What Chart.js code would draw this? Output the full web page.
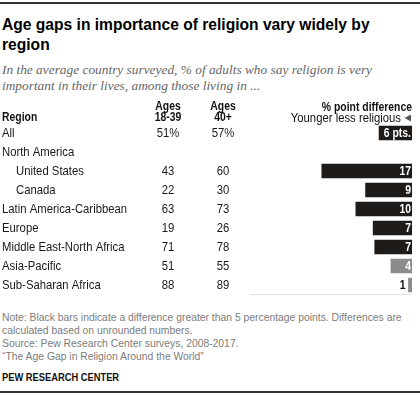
<!DOCTYPE html>
<html>
<head>
<meta charset="utf-8">
<script src="https://cdn.jsdelivr.net/npm/chart.js@4"></script>
<style>
  body { margin: 0; background: #fff; }
  #wrap { position: relative; width: 420px; height: 396px; overflow: hidden; font-family: "Liberation Sans", sans-serif; }
  .rule { position: absolute; left: 0; width: 420px; height: 1.5px; background: #333; }
  .fit { position: absolute; left: 2px; white-space: nowrap; transform-origin: left top; }
  #title { top: 15px; font-weight: bold; font-size: 17px; line-height: 20px; color: #000; }
  #sub { top: 62px; font-family: "Liberation Serif", serif; font-style: italic; font-size: 13.5px; line-height: 16px; color: #666; }
  #notes { top: 311px; font-size: 11px; line-height: 13px; color: #7c7c7c; }
  #pew { top: 371px; font-size: 11px; font-weight: bold; color: #111; }
  #box { position: absolute; left: 0; top: 96px; }
</style>
</head>
<body>
<div id="wrap">
  <div class="rule" style="top:2px"></div>
  <div id="title" class="fit" data-w="368">Age gaps in importance of religion vary widely by<br>region</div>
  <div id="sub" class="fit" data-w="370">In the average country surveyed, % of adults who say religion is very<br>important in their lives, among those living in ...</div>
  <div id="box"><canvas id="gap" width="420" height="204"></canvas></div>
  <div id="notes" class="fit" data-w="400">Note: Black bars indicate a difference greater than 5 percentage points. Differences are<br>calculated based on unrounded numbers.<br>Source: Pew Research Center surveys, 2008-2017.<br>“The Age Gap in Religion Around the World”</div>
  <div id="pew" class="fit" data-w="117">PEW RESEARCH CENTER</div>
  <div class="rule" style="top:391px"></div>
</div>
<script>
// rows of the table
var regions = ["All", "North America", "United States", "Canada", "Latin America-Caribbean",
  "Europe", "Middle East-North Africa", "Asia-Pacific", "Sub-Saharan Africa"];
var indented = [false, false, true, true, false, false, false, false, false];
var young = [51, null, 43, 22, 63, 19, 71, 51, 88];
var older = [57, null, 60, 30, 73, 26, 78, 55, 89];
// unrounded % point differences
var diff = [6.1, null, 16.7, 8.6, 10.4, 7.2, 6.9, 3.9, 0.65];
var diffLabels = ["6 pts.", "", "17", "9", "10", "7", "7", "4", "1"];

// squeeze the html text blocks to the narrow width of the original type
document.querySelectorAll(".fit").forEach(function (el) {
  var w = el.scrollWidth;
  el.style.transform = "scaleX(" + (el.dataset.w / w) + ")";
});

var FONT = '"Liberation Sans", sans-serif';

// canvas text, squeezed horizontally (regular ~0.87, bold ~0.8)
function txt(ctx, s, x, y, align, bold, color) {
  ctx.save();
  ctx.font = (bold ? "bold " : "") + "13px " + FONT;
  ctx.fillStyle = color;
  ctx.textAlign = align;
  ctx.textBaseline = "middle";
  ctx.translate(x, y);
  ctx.scale(bold ? 0.8 : 0.87, 1);
  ctx.fillText(s, 0, 0);
  ctx.restore();
}

function txtWidth(ctx, s, bold) {
  ctx.save();
  ctx.font = (bold ? "bold " : "") + "13px " + FONT;
  var w = ctx.measureText(s).width * (bold ? 0.8 : 0.87);
  ctx.restore();
  return w;
}

var barColors = diff.map(function (d) { return d > 5 ? "#1f1b18" : "#8c8c8c"; });

var tablePlugin = {
  id: "table",
  afterDatasetsDraw: function (chart) {
    var ctx = chart.ctx;
    var x = chart.scales.x, y = chart.scales.y;
    var area = chart.chartArea;

    // column headers
    txt(ctx, "Region", 2, 21, "left", true, "#111");
    txt(ctx, "Ages", 168, 10, "center", true, "#111");
    txt(ctx, "18-39", 168, 21, "center", true, "#111");
    txt(ctx, "Ages", 223, 10, "center", true, "#111");
    txt(ctx, "40+", 223, 21, "center", true, "#111");
    txt(ctx, "% point difference", 412, 11, "right", true, "#111");
    txt(ctx, "Younger less religious", 401, 22, "right", false, "#111");
    ctx.save();
    ctx.fillStyle = "#555";
    ctx.beginPath();
    ctx.moveTo(404.5, 22);
    ctx.lineTo(411, 18.5);
    ctx.lineTo(411, 25.5);
    ctx.closePath();
    ctx.fill();
    ctx.restore();

    // rows
    regions.forEach(function (r, i) {
      var py = y.getPixelForValue(i) + 0.5;
      txt(ctx, r, indented[i] ? 16 : 2, py, "left", false, "#1a1a1a");
      if (young[i] != null) txt(ctx, young[i] + (i === 0 ? "%" : ""), 168, py, "center", false, "#1a1a1a");
      if (older[i] != null) txt(ctx, older[i] + (i === 0 ? "%" : ""), 223, py, "center", false, "#1a1a1a");

      // bar labels
      if (diff[i] == null) return;
      var right = x.getPixelForValue(0);
      var left = x.getPixelForValue(diff[i]);
      var w = txtWidth(ctx, diffLabels[i], true);
      if (right - left > w + 1) {
        txt(ctx, diffLabels[i], right - 1, py, "right", true, "#fff");
      } else {
        txt(ctx, diffLabels[i], left - 3, py, "right", true, "#111");
      }
    });

    // light baseline under the bars
    ctx.save();
    ctx.strokeStyle = "#e2e2e2";
    ctx.lineWidth = 1;
    ctx.beginPath();
    ctx.moveTo(area.left, area.bottom);
    ctx.lineTo(area.right, area.bottom);
    ctx.stroke();
    ctx.restore();
  }
};

new Chart(document.getElementById("gap"), {
  type: "bar",
  data: {
    labels: regions,
    datasets: [{
      data: diff,
      backgroundColor: barColors,
      borderWidth: 0,
      barThickness: 14
    }]
  },
  options: {
    indexAxis: "y",
    responsive: false,
    animation: false,
    events: [],
    layout: { padding: { left: 250, right: 8, top: 27.5, bottom: 5.5 } },
    scales: {
      x: { min: 0, max: 30, reverse: true, display: false },
      y: { display: false }
    },
    plugins: {
      legend: { display: false },
      tooltip: { enabled: false }
    }
  },
  plugins: [tablePlugin]
});
</script>
</body>
</html>
